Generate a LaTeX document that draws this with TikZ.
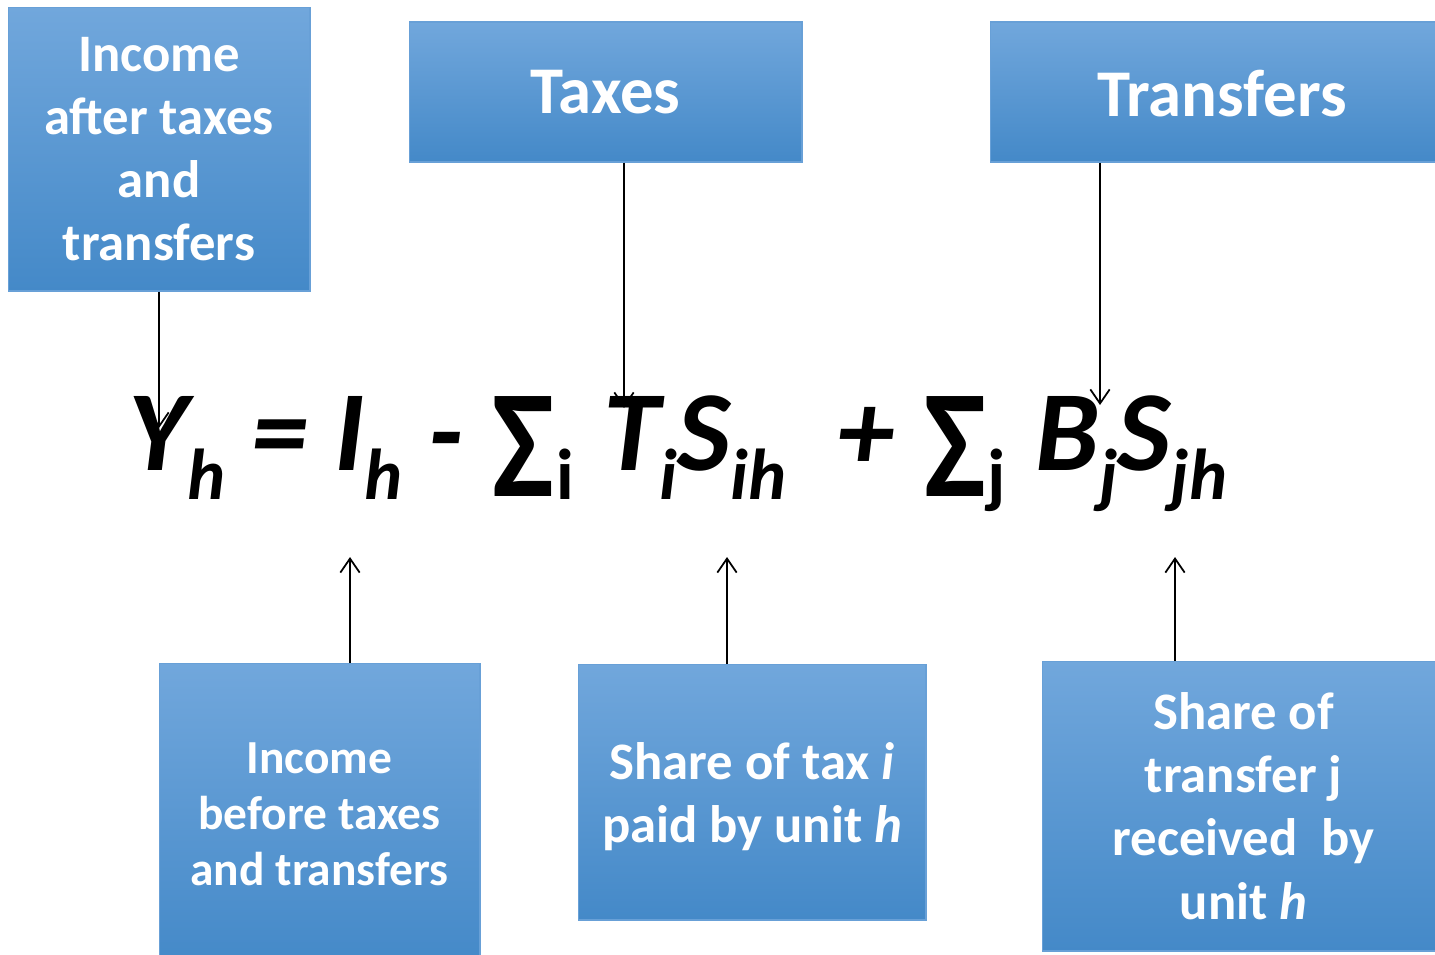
\documentclass[tikz,border=0pt]{standalone}
\usepackage{fontspec}
\setmainfont{Carlito}
\usepackage{graphicx}
\usetikzlibrary{positioning,arrows.meta}
\definecolor{boxtop}{RGB}{113,167,220}
\definecolor{boxbot}{RGB}{68,137,200}
\definecolor{boxline}{RGB}{104,160,215}
\newcommand{\lo}[1]{\raisebox{-17pt}{\fontsize{41}{41}\selectfont #1}}
\newcommand{\bigsum}{\hspace{2pt}\raisebox{-15pt}{\scalebox{1.15}[1.35]{\upshape Σ}}\hspace{1pt}}

\begin{document}
\begin{tikzpicture}[x=0.02cm, y=-0.02cm,
    bluebox/.style={draw=boxline, line width=0.6pt, top color=boxtop, bottom color=boxbot,
      text=white, align=center, inner sep=0pt},
    bigtxt/.style={font=\fontsize{30}{36}\selectfont\bfseries},
    >={Straight Barb[length=8pt,width=11pt]}]
		\useasboundingbox (0,0) rectangle (1435,954);
		% boxes round the formula
		\node[bluebox, bigtxt, minimum width=6.04cm, minimum height=5.68cm] (after) at (159,149) {Income\\after taxes\\and\\transfers};
		\node[bluebox, font=\fontsize{38}{44}\selectfont\bfseries, minimum width=7.86cm, minimum height=2.8cm] (taxes) at (605.5,92) {Taxes};
		\node[bluebox, minimum width=9.1cm, minimum height=2.8cm] (transfers) at (1217.5,92) {};
		\node[text=white, font=\fontsize{38}{44}\selectfont\bfseries] (transferstxt) at (1222,94) {Transfers};
		
		\node[bluebox, font=\fontsize{27}{32}\selectfont\bfseries, minimum width=6.42cm, minimum height=6.02cm] (before) at (319.5,814) {Income\\before taxes\\and transfers};
		\node[bluebox, minimum width=6.96cm, minimum height=5.12cm] (sharetax) at (752,792) {};
		\node[text=white, align=center, bigtxt] (sharetaxtxt) at (752,797) {Share of tax \textit{i}\\paid by unit \textit{h}};
		\node[bluebox, bigtxt, minimum width=8.06cm, minimum height=5.8cm] (sharetr) at (1243.5,806) {Share of\\transfer j\\received\ \ by\\unit \textit{h}};
		
		\node[anchor=base west, inner sep=0pt, font=\fontsize{65}{65}\selectfont\bfseries\itshape] (eq) at (128,470)
			{Y\lo{h} = I\lo{h} - \bigsum\lo{\upshape i}\hspace{2pt} T\lo{i}S\lo{ih}\ \ + \bigsum\lo{\upshape j}\hspace{2pt} B\lo{j}S\lo{jh}};
		
		\coordinate (ytip) at (159,428);
		\coordinate (ttip) at (624,408);
		\coordinate (btip) at (1100,405);
		\coordinate (itip) at (350,557);
		\coordinate (stip) at (727,557);
		\coordinate (jtip) at (1175,557);
		
		\draw[->, line width=1pt] (after.south) -- (ytip);
		\draw[->, line width=1pt] (taxes.south -| ttip) -- (ttip);
		\draw[->, line width=1pt] (transfers.south -| btip) -- (btip);
		\draw[->, line width=1pt] (before.north -| itip) -- (itip);
		\draw[->, line width=1pt] (sharetax.north -| stip) -- (stip);
		\draw[->, line width=1pt] (sharetr.north -| jtip) -- (jtip);
	\end{tikzpicture}
\end{document}
